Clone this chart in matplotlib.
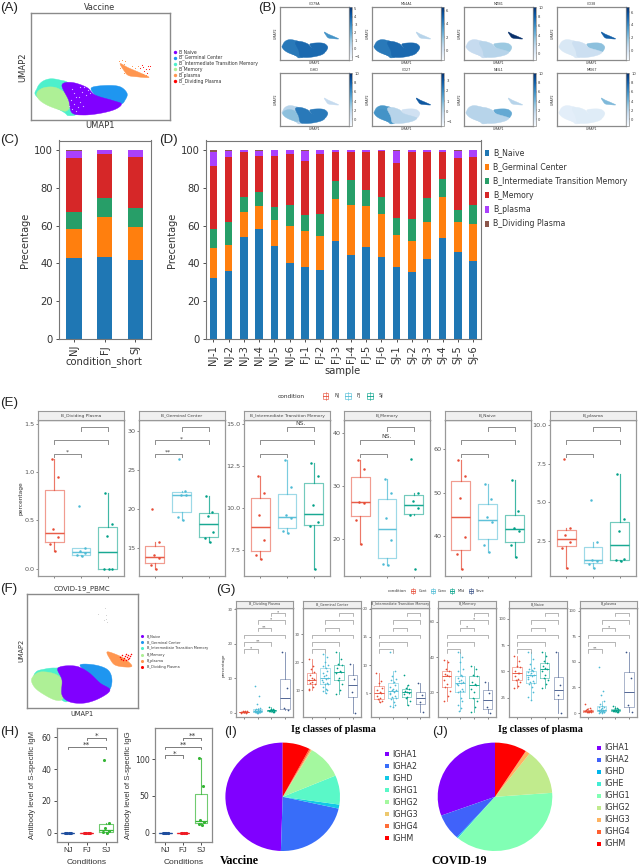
import matplotlib
matplotlib.use("Agg")
import matplotlib.pyplot as plt
from matplotlib import cm
from matplotlib.colors import Normalize
from matplotlib.patches import Rectangle
import numpy as np

W, H = 639, 867

CELL_TYPES = ["B_Naive", "B_Germinal Center", "B_Intermediate Transition Memory",
              "B_Memory", "B_plasma", "B_Dividing Plasma"]
UMAP_COLORS = ["#8000ff", "#1e96f0", "#4df0cc", "#aef096", "#ff9650", "#ff0000"]
BAR_COLORS = ["#1f77b4", "#ff7f0e", "#279e68", "#d62728", "#aa40fc", "#8c564b"]

# vaccine UMAP outlines, the gene panels use the same ones
VAC_INTER = [(110, 265), (125, 245), (150, 236), (180, 240), (205, 250), (215, 290), (232, 338),
             (205, 347), (188, 335), (110, 290)]
VAC_MEMORY = [(110, 278), (130, 263), (165, 262), (195, 280), (212, 310), (200, 332), (180, 330),
              (140, 315), (115, 297)]
VAC_NAIVE = [(185, 255), (215, 247), (260, 262), (285, 285), (340, 302), (364, 312), (345, 328),
             (300, 340), (250, 345), (215, 338), (205, 300)]
VAC_GC = [(275, 262), (320, 256), (360, 260), (381, 280), (375, 300), (362, 312), (330, 305),
          (300, 295), (280, 280)]
VAC_PLASMA = [(360, 190), (385, 203), (420, 218), (447, 232), (410, 230), (385, 226), (372, 212)]
VAC_PLASMA_X = [358, 365, 372, 375, 360, 395, 405, 415, 428, 437, 392, 372]
VAC_PLASMA_Y = [182, 178, 190, 183, 203, 198, 203, 196, 222, 226, 226, 218]
VAC_DIVID_X = [420, 428, 437, 445, 450, 432, 440, 425, 446]
VAC_DIVID_Y = [205, 200, 207, 197, 196, 213, 218, 193, 208]
VAC_PALE_X = [212, 220, 226, 232, 240, 216, 228, 236, 248, 222, 205, 214, 244, 256, 262, 270, 252, 238]
VAC_PALE_Y = [300, 312, 292, 322, 305, 326, 332, 290, 318, 280, 318, 268, 275, 285, 270, 280, 262, 262]

# covid UMAP outlines
COV_INTER = [(36, 672), (45, 669), (55, 668), (65, 670), (70, 690), (68, 701), (60, 699), (36, 680)]
COV_MEMORY = [(32, 678), (40, 672), (55, 674), (63, 682), (63, 698), (55, 700), (40, 692), (33, 685)]
COV_NAIVE = [(58, 668), (75, 666), (88, 672), (100, 683), (110, 690), (100, 698), (85, 703),
             (70, 702), (62, 695), (62, 680)]
COV_GC = [(80, 665), (95, 665), (108, 670), (112, 680), (109, 690), (100, 684), (90, 675)]
COV_PLASMA = [(107, 652), (115, 654), (125, 659), (132, 666), (125, 667), (115, 665), (110, 659)]
COV_DIVID_X = [120, 122, 124, 125, 126, 127, 128, 129, 130, 131, 123, 126, 128, 121]
COV_DIVID_Y = [657, 655, 658, 656, 654, 657, 655, 658, 656, 654, 660, 660, 659, 659]
COV_FAINT_X = [105, 106, 104, 107, 98, 106]
COV_FAINT_Y = [608, 615, 620, 622, 614, 619]

# gene expression, as a 0-1 shade for inter, memory, naive, gc, plasma
GENES = ["CD79A", "MS4A1", "MZB1", "CD38", "IGHD", "CD27", "NEIL1", "MKI67"]
GENE_SHADES = [[0.72, 0.72, 0.78, 0.78, 0.62], [0.72, 0.72, 0.78, 0.78, 0.3],
               [0.25, 0.25, 0.3, 0.38, 1.0], [0.15, 0.15, 0.22, 0.42, 0.82],
               [0.3, 0.42, 0.72, 0.72, 0.25], [0.6, 0.62, 0.3, 0.2, 0.85],
               [0.3, 0.3, 0.3, 0.52, 0.3], [0.1, 0.1, 0.12, 0.12, 0.45]]
GENE_VMIN = [-1.4, -1.45, -1.45, -1.45, -1.45, -1.4, -1.45, -1.45]
GENE_VMAX = [5.2, 6.55, 10.15, 6.8, 10.15, 3.7, 10.15, 10.15]
GENE_TICKS = [[-1, 0, 1, 2, 3, 4, 5], [0, 2, 4, 6], [0, 2, 4, 6, 8, 10], [0, 2, 4, 6],
              [0, 2, 4, 6, 8, 10], [-1, 0, 1, 2, 3], [0, 2, 4, 6, 8, 10], [0, 2, 4, 6, 8, 10]]

CONDITIONS = ["NJ", "FJ", "SJ"]
COND_NAIVE = [43, 43.3, 42]
COND_GC = [58, 64.7, 59.5]
COND_INTER = [67, 74.5, 69.2]
COND_MEMORY = [96, 98, 96.5]
COND_PLASMA = [99.5, 100, 100]
COND_DIVID = [100, 100, 100]

SAMPLES = ["NJ-1", "NJ-2", "NJ-3", "NJ-4", "NJ-5", "NJ-6", "FJ-1", "FJ-2", "FJ-3", "FJ-4", "FJ-5", "FJ-6",
           "SJ-1", "SJ-2", "SJ-3", "SJ-4", "SJ-5", "SJ-6"]
SAMP_NAIVE = [32.5, 36, 54, 58, 49, 40, 38.3, 36.3, 52, 44.6, 48.8, 43.3, 37.9, 35.5, 42.2, 53.5, 46, 41.3]
SAMP_GC = [48, 49.8, 67, 70.3, 63.2, 60, 57, 54.7, 74, 71, 70.5, 66, 55, 51.8, 61.8, 75.2, 62, 60.8]
SAMP_INTER = [58, 62, 75.2, 77.5, 70, 71, 65.5, 66.3, 83.5, 84, 79, 75.2, 64, 63.7, 74.6, 84.5, 68.5, 70.7]
SAMP_MEMORY = [91.5, 96.5, 99, 97, 97, 98, 94.2, 97.7, 98.8, 99, 99, 99.3, 93, 98.8, 99, 99, 95.5, 96.5]
SAMP_PLASMA = [99, 99.7, 100, 99.5, 100, 100, 99.5, 100, 100, 100, 100, 99.8, 99.5, 100, 100, 100, 99.5, 100]
SAMP_DIVID = [100] * 18

E_TITLES = ["B_Dividing Plasma", "B_Germinal Center", "B_Intermediate Transition Memory",
            "B_Memory", "B_Naive", "B_plasma"]
E_DIVIDING = [[1.14, 0.95, 0.41, 0.33, 0.26, 0.186], [0.65, 0.22, 0.18, 0.165, 0.14, 0.13],
              [0.78, 0.46, 0.34, 0, 0, 0]]
E_GC = [[20, 15.75, 14.1, 13.8, 12.9, 12.3], [26.4, 22.3, 21.8, 21.8, 18.95, 18.65],
        [21.7, 19.7, 19.1, 17.1, 16.3, 15.8]]
E_INTER = [[11.9, 10.9, 9.6, 8.1, 7.2, 6.95], [12.85, 11.25, 9.55, 9.4, 8.6, 8.5],
           [12.65, 11.9, 10.15, 9.15, 8.9, 6.37]]
E_MEMORY = [[34.9, 33.3, 27.1, 26.8, 23.7, 19.2], [31.4, 28.7, 24, 19.9, 15.3, 15.1],
            [35.2, 28.7, 27.2, 25.9, 24.5, 14.4]]
E_NAIVE = [[57.6, 53.9, 48.8, 39.8, 35.7, 32.3], [51.9, 48.4, 44.3, 43.2, 37.9, 36.2],
           [53, 45.8, 41.8, 41.2, 37.8, 35]]
E_PLASMA = [[7.8, 3.3, 2.85, 2.4, 2.05, 0.7], [5.13, 2.4, 1.25, 1.2, 0.97, 0.7],
            [6.85, 3.9, 3.15, 1.3, 1.25, 1.15]]
E_YLIMS = [(-0.07, 1.541), (11.53, 31.4), (5.96, 15.24), (13.17, 42.5), (30.79, 66.78), (0.24, 10.32)]
E_YTICKS = [[0, 0.5, 1, 1.5], [15, 20, 25, 30], [7.5, 10, 12.5, 15], [20, 30, 40], [40, 50, 60], [2.5, 5, 7.5, 10]]
E_YFMT = ["%.1f", "%d", "%.1f", "%d", "%d", "%.1f"]
E_STARS = [{(1, 2): "*"}, {(1, 2): "**", (1, 3): "*"}, {(2, 3): "NS."}, {(1, 3): "NS."}, {}, {}]
E_LEFT = [38, 138.7, 244, 344, 444.7, 550]
E_WIDTH = 86

G_TITLES = E_TITLES
G_CONDS = ["Cont", "Conv", "Mild", "Seve"]
G_DIVIDING = [[0, 0.05, 0.1, 0.1, 0.15, 0.2, 0.2, 0.3, 0.3, 0.4, 0.5, 0.6],
              [7.7, 4.9, 2.4, 1.5, 1.2, 1, 0.9, 0.8, 0.7, 0.6, 0.5, 0.5, 0.4, 0.4, 0.3, 0.3, 0.2, 0.2, 0.1, 0.1, 0.1, 0, 0],
              [1.6, 1.2, 1, 0.9, 0.8, 0.7, 0.6, 0.6, 0.5, 0.4, 0.3, 0.2],
              [17.5, 7.2, 1.3, 0.8]]
G_GC = [[21, 18.5, 17.5, 16.5, 15.5, 14.5, 14, 13.5, 13, 12.5, 12, 11, 10.5, 10],
        [23, 22, 20, 19, 18.5, 18, 17, 16, 15.5, 15, 14.5, 14, 13.5, 13, 12.5, 12, 12, 11, 10.5, 10, 9.5, 9],
        [23.5, 21, 19.5, 19, 18, 17, 16.5, 16, 14.5, 13.5, 12, 10, 8.5],
        [19.5, 14, 9.3, 1.9]]
G_INTER = [[8.6, 7.2, 6.9, 6, 5.6, 5.2, 5, 4.6, 4.1, 3.9, 3.6, 3.4],
           [12.3, 9, 8, 7.6, 7.4, 7, 6.5, 6.2, 5.8, 5.6, 5.5, 5.3, 5.1, 4.9, 4.6, 4.4, 4.2, 4, 3.5, 3, 2.8, 2.5],
           [8.2, 6.5, 5.9, 5.7, 5.4, 5.2, 5.1, 4.8, 4.4, 4.2, 3.6, 3],
           [6.8, 4.7, 3.5, 1.6]]
G_MEMORY = [[38.2, 37, 33, 32, 30.5, 30, 29.5, 27, 25, 23, 21, 18, 15.3],
            [43, 40, 37, 33, 32, 30, 29, 28, 27, 26.5, 26, 25.5, 25, 24, 22, 21, 20.5, 20, 17, 15, 13, 11, 9.6],
            [35, 33, 30, 29, 26, 25, 24, 22, 20, 17, 15, 12, 8.7],
            [26, 19.5, 11.5, 8.5]]
G_NAIVE = [[64.8, 60, 55, 54, 50, 48, 48, 46, 43, 42, 40, 36, 33.8],
           [68, 62, 57, 53, 52, 51, 50, 49, 48, 47, 47, 46, 45, 43, 41, 40, 39, 38, 35, 30, 26, 22.8],
           [68, 65, 60, 58, 55, 53, 52, 50, 47, 44, 42, 38, 34.5],
           [68, 37, 28, 10.8]]
G_PLASMA = [[8.5, 5, 4, 3, 3, 2.5, 2, 2, 1.5, 1.5, 1, 1],
            [44.6, 21.8, 18, 12, 9, 7, 6, 5.5, 5, 4, 3.5, 3, 3, 2.5, 2, 2, 1.5, 1.5, 1, 1, 0.5, 0.5],
            [7, 5, 4.5, 4, 3.5, 3, 2.5, 2.5, 2, 2, 1.5, 1],
            [60, 34, 8, 1]]
G_YLIMS = [(-1.33, 30.4), (0.25, 39.5), (0.74, 20.18), (5.9, 67.9), (6.4, 110.4), (-4.1, 102.9)]
G_YTICKS = [[0, 10, 20, 30], [10, 20, 30], [5, 10, 15, 20], [20, 40, 60], [25, 50, 75, 100], [0, 25, 50, 75, 100]]
G_STARS = [{(3, 4): "*", (2, 4): "*", (2, 3): "**", (1, 3): "**", (1, 2): "*"}, {}, {},
           {(2, 4): "*", (2, 3): "*"}, {}, {(2, 3): "*", (1, 2): "**"}]
G_LEFT = [235.7, 303.3, 371, 438.3, 509, 579.7]
G_WIDTH = 57.6

H_IGM = [[0, 0, 0, 0, 0, 0], [0, 0, 0, 0, 0, 0], [46, 6, 3, 1, 0.5, 0]]
H_IGG = [[0, 0, 0, 0, 0, 0], [0, 0, 0, 0, 0, 0], [101, 64, 17, 15, 12, 11]]

IGHS_VAC = ["IGHA1", "IGHA2", "IGHD", "IGHG1", "IGHG2", "IGHG3", "IGHG4", "IGHM"]
PIE_VAC = [49.5, 22, 1.2, 8.7, 10.1, 0.4, 0.4, 7.7]
IGHS_COV = ["IGHA1", "IGHA2", "IGHD", "IGHE", "IGHG1", "IGHG2", "IGHG3", "IGHG4", "IGHM"]
PIE_COV = [30.6, 7.8, 0.3, 0.1, 37.3, 13.5, 1.2, 0.1, 9.0]

# fixed side offsets for the strip points
E_JITTER = [-0.09, 0.14, -0.04, 0.16, -0.14, 0.05, -0.18, 0.1]
G_JITTER = [-0.2, 0.12, -0.05, 0.2, -0.13, 0.05, 0.16, -0.18, 0.02, -0.08, 0.22, 0.09, -0.22]

NPG = ["#e64b35", "#4dbbd5", "#00a087", "#3c5488"]
GREY = "#8a8a8a"

fig = plt.figure(figsize=(W / 100, H / 100), dpi=100)
bg = fig.add_axes([0, 0, 1, 1])
bg.set_xlim(0, W)
bg.set_ylim(H, 0)
bg.axis("off")


def ax_px(x0, y0, x1, y1):
    return fig.add_axes([x0 / W, 1 - y1 / H, (x1 - x0) / W, (y1 - y0) / H])


def label(x, y, s, size, **kw):
    kw.setdefault("va", "center")
    kw.setdefault("color", "#333333")
    bg.text(x, y, s, fontsize=size, **kw)


def rounded(pts):
    # closed catmull-rom, only to round off the cluster outlines
    pts = np.array(pts, dtype=float)
    out = []
    for i in range(len(pts)):
        p0, p1, p2, p3 = pts[i - 1], pts[i], pts[(i + 1) % len(pts)], pts[(i + 2) % len(pts)]
        for t in np.linspace(0, 1, 8, endpoint=False):
            out.append(0.5 * (2 * p1 + (p2 - p0) * t + (2 * p0 - 5 * p1 + 4 * p2 - p3) * t ** 2
                              + (3 * p1 - p0 - 3 * p2 + p3) * t ** 3))
    return np.array(out)


def blob(ax, pts, color):
    xy = rounded(pts)
    ax.fill(xy[:, 0], xy[:, 1], color=color, lw=0.3)


def umap_box(ax, xlim, ylim, lw=1.0):
    ax.set_xlim(*xlim)
    ax.set_ylim(*ylim)
    ax.set_xticks([])
    ax.set_yticks([])
    for s in ax.spines.values():
        s.set_color(GREY)
        s.set_linewidth(lw)


def stacked(ax, names, tops):
    lower = np.zeros(len(names))
    xs = np.arange(len(names))
    for top, col in zip(tops, BAR_COLORS):
        top = np.array(top, dtype=float)
        ax.bar(xs, top - lower, 0.5, bottom=lower, color=col)
        lower = top
    ax.set_xlim(-0.5, len(names) - 0.5)
    ax.set_ylim(0, 105)
    ax.set_xticks(xs)
    ax.set_xticklabels(names, rotation=90)
    ax.set_yticks([0, 20, 40, 60, 80, 100])
    ax.tick_params(labelsize=7.2, length=2.4, width=0.6, pad=2, colors="#333333")
    for s in ax.spines.values():
        s.set_color("#777777")
        s.set_linewidth(0.8)


def bracket(ax, a, b, frac, tip, color=GREY, lw=0.7):
    tr = ax.get_xaxis_transform()
    ax.plot([a, a, b, b], [frac - tip, frac, frac, frac - tip], color=color, lw=lw,
            transform=tr, clip_on=False, zorder=5)


def box_facet(left, width, top, strip_top, bottom, title, groups, ylim, yticks, yfmt, colors,
              jitter, stars, fracs, pairs, lw, dot, tsize, lsize, star_size):
    ax = ax_px(left, top, left + width, bottom)
    n = len(groups)
    for i, vals in enumerate(groups):
        c = colors[i]
        ax.boxplot([vals], positions=[i + 1], widths=0.7, showfliers=False, showcaps=False,
                   boxprops=dict(color=c, lw=lw, alpha=0.55),
                   whiskerprops=dict(color=c, lw=lw, alpha=0.75),
                   medianprops=dict(color=c, lw=lw * 1.25, alpha=0.9))
        off = [jitter[k % len(jitter)] for k in range(len(vals))]
        ax.scatter(np.array(off) + i + 1, vals, s=dot, color=c, lw=0, zorder=4)
    ax.set_xlim(0.4, n + 0.6)
    ax.set_ylim(*ylim)
    ax.set_xticks(range(1, n + 1))
    ax.set_xticklabels([])
    ax.set_yticks(yticks)
    ax.set_yticklabels([yfmt % t for t in yticks])
    ax.tick_params(labelsize=lsize, length=1.3, width=0.5, pad=1, colors="#555555")
    for s in ax.spines.values():
        s.set_color("#999999")
        s.set_linewidth(0.9)
    ax.spines["top"].set_color("#444444")
    tip = 3.3 / (bottom - top)
    for pair, frac in zip(pairs, fracs):
        bracket(ax, pair[0], pair[1], frac, tip, lw=lw * 0.8)
        if pair in stars:
            txt = stars[pair]
            dy = 1.5 if txt == "NS." else -1.0
            ax.text((pair[0] + pair[1]) / 2, frac + dy / (bottom - top), txt,
                    transform=ax.get_xaxis_transform(), ha="center", va="bottom",
                    fontsize=star_size, color="#444444", clip_on=False)
    strip = ax_px(left, strip_top, left + width, top)
    strip.set_xticks([])
    strip.set_yticks([])
    strip.set_facecolor("#f0f0f0")
    for s in strip.spines.values():
        s.set_color("#999999")
        s.set_linewidth(0.8)
    strip.text(0.5, 0.5, title, transform=strip.transAxes, ha="center", va="center",
               fontsize=tsize, color="#444444")
    return ax


def legend_keys(xs, y, colors, size):
    for x, c in zip(xs, colors):
        bg.add_patch(Rectangle((x - size / 2, y - size / 2), size, size, fill=False, ec=c, lw=0.6, alpha=0.7))
        bg.plot([x, x], [y - size * 0.8, y + size * 0.8], color=c, lw=0.5, alpha=0.7)
        bg.plot([x - size / 2, x + size / 2], [y, y], color=c, lw=0.6)


def pie(cx, cy, rx, ry, values):
    # the pies are a little squashed in the figure, so no equal aspect here
    ax = ax_px(cx - rx, cy - ry, cx + rx, cy + ry)
    colors = cm.rainbow(np.linspace(0, 1, len(values)))
    ax.pie(values, colors=colors, startangle=90, radius=1, wedgeprops=dict(lw=0))
    ax.set_aspect("auto")
    ax.set_xlim(-1, 1)
    ax.set_ylim(-1, 1)
    return colors


# (A)
ax_a = ax_px(31, 13, 170, 120)
umap_box(ax_a, (92, 510), (360, 38))
blob(ax_a, VAC_INTER, UMAP_COLORS[2])
blob(ax_a, VAC_MEMORY, UMAP_COLORS[3])
blob(ax_a, VAC_GC, UMAP_COLORS[1])
blob(ax_a, VAC_NAIVE, UMAP_COLORS[0])
blob(ax_a, VAC_PLASMA, UMAP_COLORS[4])
ax_a.scatter(VAC_PALE_X, VAC_PALE_Y, s=0.8, color="#d9c2ff", lw=0)
ax_a.scatter(VAC_PLASMA_X, VAC_PLASMA_Y, s=0.5, color=UMAP_COLORS[4], lw=0)
ax_a.scatter(VAC_DIVID_X, VAC_DIVID_Y, s=0.6, color=UMAP_COLORS[5], lw=0)
label(100, 7.5, "Vaccine", 5.8, ha="center")
label(100, 125, "UMAP1", 6, ha="center")
label(23, 67, "UMAP2", 6, ha="center", rotation=90)
for i, (name, c) in enumerate(zip(CELL_TYPES, UMAP_COLORS)):
    bg.scatter(175, 51.7 + i * 5.9, s=6, color=c, lw=0)
    label(178.7, 51.7 + i * 5.9, name, 3.3)

# (B)
for i, gene in enumerate(GENES):
    col, row = i % 4, i // 4
    x0 = [280, 372, 464, 557][col]
    y0 = [7, 73][row]
    ax = ax_px(x0, y0, x0 + 69, y0 + 53)
    umap_box(ax, (92, 510), (360, 38), lw=0.9)
    shades = GENE_SHADES[i]
    for pts, s in zip([VAC_INTER, VAC_MEMORY, VAC_GC, VAC_NAIVE, VAC_PLASMA],
                      [shades[0], shades[1], shades[3], shades[2], shades[4]]):
        blob(ax, pts, cm.Blues(s))
    label(x0 + 34.5, y0 - 3, gene, 2.4, ha="center")
    label(x0 + 34.5, y0 + 56, "UMAP1", 2.3, ha="center")
    label(x0 - 4, y0 + 26.5, "UMAP2", 2.3, ha="center", rotation=90)
    cax = ax_px(x0 + 69.3, y0, x0 + 71.7, y0 + 53)
    sm = cm.ScalarMappable(norm=Normalize(GENE_VMIN[i], GENE_VMAX[i]), cmap="Blues")
    cb = fig.colorbar(sm, cax=cax, ticks=GENE_TICKS[i])
    cb.ax.tick_params(labelsize=2.7, length=1, width=0.3, pad=0.8, colors="#333333")
    cb.outline.set_edgecolor(GREY)
    cb.outline.set_linewidth(0.5)

# (C)
ax_c = ax_px(58.7, 140.5, 150.7, 339)
stacked(ax_c, CONDITIONS, [COND_NAIVE, COND_GC, COND_INTER, COND_MEMORY, COND_PLASMA, COND_DIVID])
label(104, 362, "condition_short", 7.2, ha="center")
label(25, 240, "Precentage", 7, ha="center", rotation=90)

# (D)
ax_d = ax_px(205.7, 140.5, 480.7, 339)
stacked(ax_d, SAMPLES, [SAMP_NAIVE, SAMP_GC, SAMP_INTER, SAMP_MEMORY, SAMP_PLASMA, SAMP_DIVID])
label(343, 371, "sample", 7.2, ha="center")
label(172, 240, "Precentage", 7, ha="center", rotation=90)
for i, (name, c) in enumerate(zip(CELL_TYPES, BAR_COLORS)):
    bg.add_patch(Rectangle((485, 149.7 + i * 14.16), 4.2, 6.2, color=c, lw=0))
    label(493, 152.7 + i * 14.16, name, 5.6)

# (E)
E_GROUPS = [E_DIVIDING, E_GC, E_INTER, E_MEMORY, E_NAIVE, E_PLASMA]
E_PAIRS = [(1, 2), (1, 3), (2, 3)]
E_FRACS = [0.783, 0.869, 0.953]
for i in range(6):
    box_facet(E_LEFT[i], E_WIDTH, 420, 411, 575.5, E_TITLES[i], E_GROUPS[i], E_YLIMS[i], E_YTICKS[i],
              E_YFMT[i], NPG[:3], E_JITTER, E_STARS[i], E_FRACS, E_PAIRS, 0.85, 3.2, 3.2, 4.6, 4.4)
label(20.7, 498, "percentage", 4.2, ha="center", rotation=90)
label(291, 396, "condition", 4.2, ha="center")
legend_keys([325.7, 348, 370], 396, NPG[:3], 5.5)
for x, name in zip([337, 359, 381], CONDITIONS):
    label(x, 396, name, 3.6, ha="center")

# (F)
ax_f = ax_px(27, 594.3, 137.7, 708.3)
umap_box(ax_f, (27, 137.7), (708.3, 594.3))
blob(ax_f, COV_INTER, UMAP_COLORS[2])
blob(ax_f, COV_MEMORY, UMAP_COLORS[3])
blob(ax_f, COV_GC, UMAP_COLORS[1])
blob(ax_f, COV_NAIVE, UMAP_COLORS[0])
blob(ax_f, COV_PLASMA, UMAP_COLORS[4])
ax_f.scatter(COV_DIVID_X, COV_DIVID_Y, s=1.2, color=UMAP_COLORS[5], lw=0)
ax_f.scatter(COV_FAINT_X, COV_FAINT_Y, s=0.4, color="#cccccc", lw=0)
label(82, 589, "COVID-19_PBMC", 5, ha="center")
label(82, 714, "UMAP1", 4.8, ha="center")
label(21, 650, "UMAP2", 4.8, ha="center", rotation=90)
for i, (name, c) in enumerate(zip(CELL_TYPES, UMAP_COLORS)):
    bg.scatter(142, 636 + i * 6.2, s=5, color=c, lw=0)
    label(147, 636 + i * 6.2, name, 2.5)

# (G)
G_GROUPS = [G_DIVIDING, G_GC, G_INTER, G_MEMORY, G_NAIVE, G_PLASMA]
G_PAIRS = [(1, 2), (1, 3), (2, 3), (1, 4), (2, 4), (3, 4)]
G_FRACS = [0.621, 0.685, 0.815, 0.751, 0.885, 0.952]
for i in range(6):
    box_facet(G_LEFT[i], G_WIDTH, 607.7, 601, 717.3, G_TITLES[i], G_GROUPS[i], G_YLIMS[i], G_YTICKS[i],
              "%d", NPG, G_JITTER, G_STARS[i], G_FRACS, G_PAIRS, 0.55, 1.5, 2.4, 2.9, 3.2)
label(224, 665, "percentage", 3, ha="center", rotation=90)
label(397, 590.7, "condition", 2.9, ha="center")
legend_keys([413, 432.7, 452, 470.7], 590.7, NPG, 4)
for x, name in zip([423, 442, 461, 480], G_CONDS):
    label(x, 590.7, name, 2.5, ha="center")

# (H)
H_COLORS = ["#1f4e9e", "#ee1c25", "#35b535"]
for vals, box, ylim, ticks, stars, name, tick_x in [
    (H_IGM, (56.7, 117.3), (-5.66, 65.7), [0, 20, 40, 60], [((1, 3), 0.838, "**"), ((2, 3), 0.917, "*")], "IgM", 33),
    (H_IGG, (155, 211.7), (-12.2, 141.7), [0, 50, 100], [((1, 2), 0.761, "*"), ((1, 3), 0.838, "**"), ((2, 3), 0.917, "**")], "IgG", 128),
]:
    ax = ax_px(box[0], 728.3, box[1], 841.7)
    for i, v in enumerate(vals):
        ax.boxplot([v], positions=[i + 1], widths=0.7, showfliers=False, showcaps=False,
                   boxprops=dict(color=H_COLORS[i], lw=0.8, alpha=0.7),
                   whiskerprops=dict(color=H_COLORS[i], lw=0.8, alpha=0.8),
                   medianprops=dict(color=H_COLORS[i], lw=0.9))
        off = [E_JITTER[k % len(E_JITTER)] for k in range(len(v))]
        ax.scatter(np.array(off) + i + 1, v, s=5, color=H_COLORS[i], lw=0, zorder=4)
    ax.set_xlim(0.42, 3.6)
    ax.set_ylim(*ylim)
    ax.set_xticks([1, 2, 3])
    ax.set_xticklabels(CONDITIONS, family="Liberation Sans")
    ax.set_yticks(ticks)
    ax.tick_params(labelsize=5.6, length=2.5, width=0.6, pad=1.5, colors="#333333")
    for s in ax.spines.values():
        s.set_color(GREY)
        s.set_linewidth(0.9)
    for pair, frac, txt in stars:
        bracket(ax, pair[0], pair[1], frac, 2.2 / 113.4, color="#666666", lw=0.6)
        ax.text((pair[0] + pair[1]) / 2, frac - 0.012, txt, transform=ax.get_xaxis_transform(),
                ha="center", va="bottom", fontsize=5.4, color="#333333")
    label((box[0] + box[1]) / 2, 862.7, "Conditions", 6, ha="center", family="Liberation Sans")
    label(tick_x, 785, "Antibody level of S-specific " + name, 5.6, ha="center", rotation=90,
          family="Liberation Sans")

# (I) and (J)
for values, names, cx, title_x, sw_x, first_y, bottom_txt, bottom_x in [
    (PIE_VAC, IGHS_VAC, 282.7, 333, 386.7, 754.3, "Vaccine", 220),
    (PIE_COV, IGHS_COV, 495, 540.7, 599, 748, "COVID-19", 431.7),
]:
    colors = pie(cx, 796.8, 57.3, 54.2, values)
    label(title_x, 730, "Ig classes of plasma", 7.3, ha="center", family="Liberation Serif",
          weight="bold", color="black")
    label(bottom_x, 861, bottom_txt, 8.6, family="Liberation Serif", weight="bold", color="black")
    for i, (name, c) in enumerate(zip(names, colors)):
        y = first_y + i * 12
        bg.add_patch(Rectangle((sw_x - 2.2, y - 2.2), 4.4, 4.4, color=c, lw=0))
        label(sw_x + 5.6, y, name, 5.8)

for x, y, s in [(0, 8, "(A)"), (258, 8, "(B)"), (0, 140, "(C)"), (159, 140, "(D)"), (0, 403, "(E)"),
                (0, 589, "(F)"), (216, 590, "(G)"), (0, 731.7, "(H)"), (224, 731.7, "(I)"), (432, 731.7, "(J)")]:
    label(x, y, s, 9.6, family="Liberation Sans", color="#222222")

fig.savefig("out.png", dpi=100)
